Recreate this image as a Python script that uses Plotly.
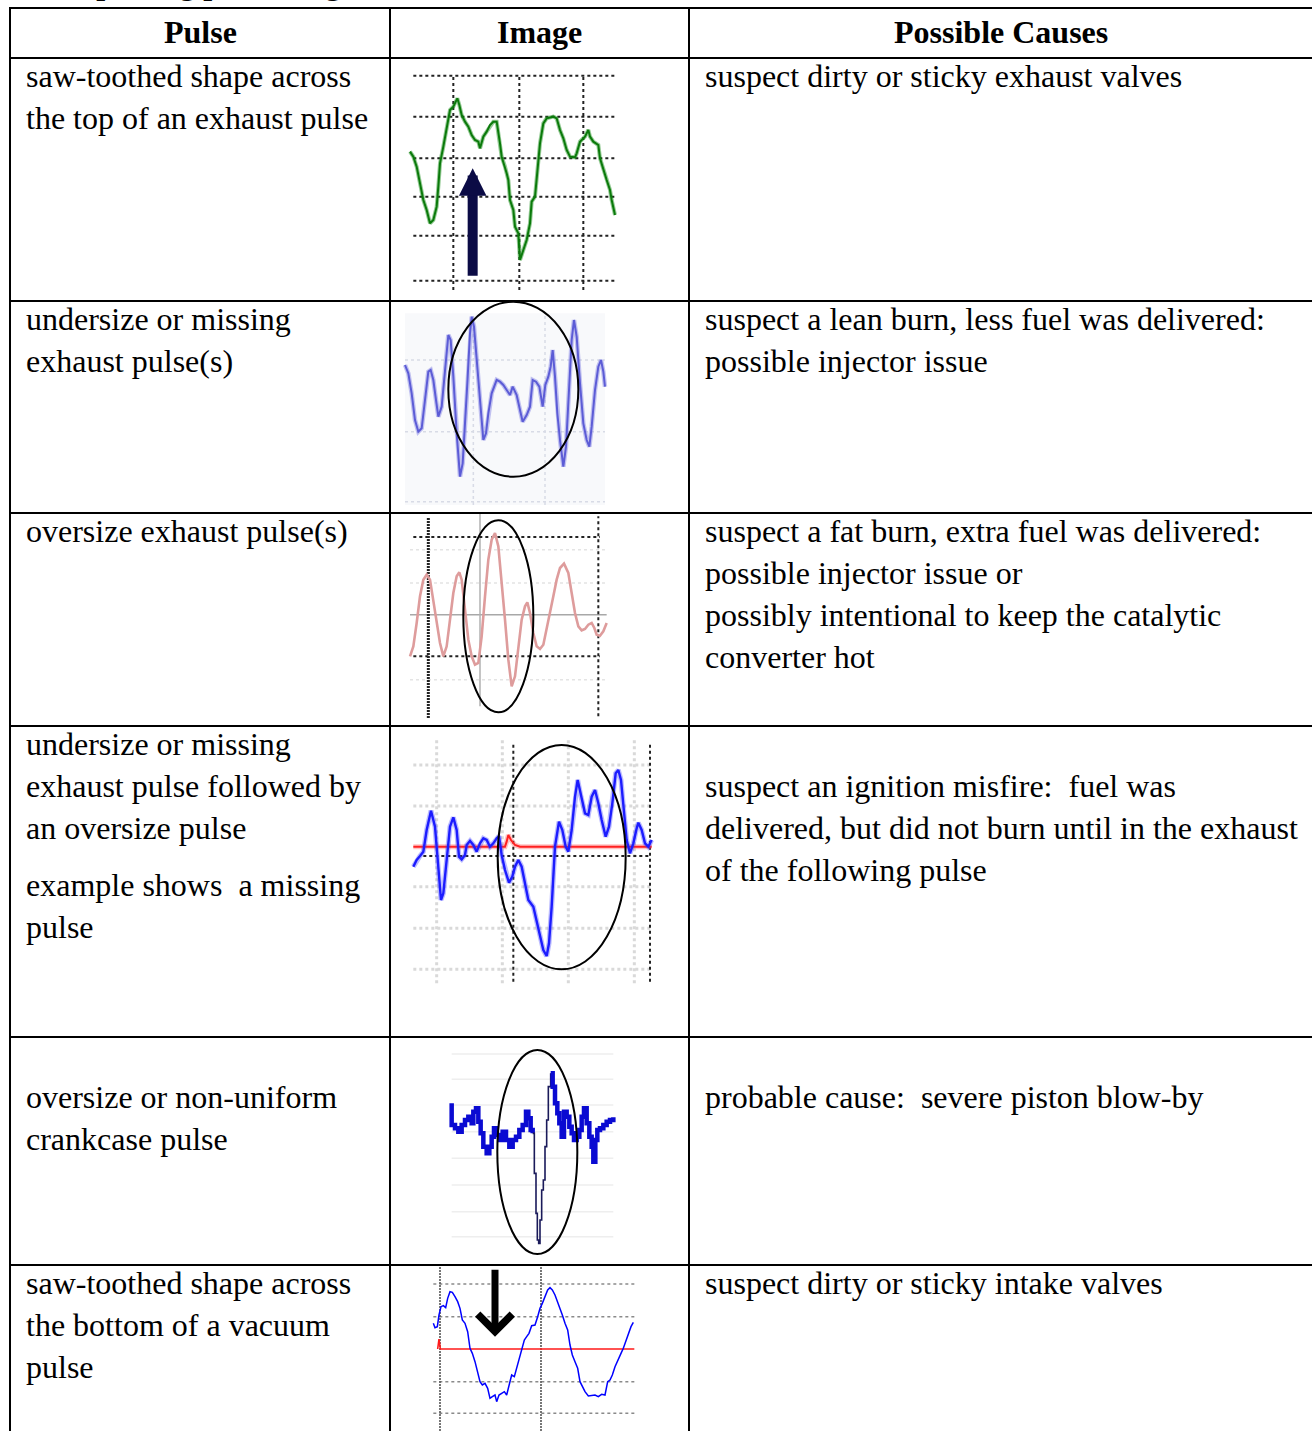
import plotly.graph_objects as go

W, H = 1312, 1431

# ---------------- table text ----------------
headers = ["Pulse", "Image", "Possible Causes"]

# "" = blank line, "^" = small paragraph gap
pulse_text = [
    ["saw-toothed shape across", "the top of an exhaust pulse"],
    ["undersize or missing", "exhaust pulse(s)"],
    ["oversize exhaust pulse(s)"],
    ["undersize or missing", "exhaust pulse followed by", "an oversize pulse", "^",
     "example shows\u00a0 a missing", "pulse"],
    ["", "oversize or non-uniform", "crankcase pulse"],
    ["saw-toothed shape across", "the bottom of a vacuum", "pulse"],
]
cause_text = [
    ["suspect dirty or sticky exhaust valves"],
    ["suspect a lean burn, less fuel was delivered:", "possible injector issue"],
    ["suspect a fat burn, extra fuel was delivered:", "possible injector issue or",
     "possibly intentional to keep the catalytic", "converter hot"],
    ["", "suspect an ignition misfire:\u00a0 fuel was",
     "delivered, but did not burn until in the exhaust", "of the following pulse"],
    ["", "probable cause:\u00a0 severe piston blow-by"],
    ["suspect dirty or sticky intake valves"],
]

# ---------------- waveform samples (time, amplitude) ----------------
# row 1: exhaust pulse, saw-toothed top
w1_t = [30, 40, 50, 60, 70, 80, 90, 100, 110, 115, 120, 130, 140, 150, 160, 165, 172, 178, 185, 195,
        205, 215, 225, 235, 240, 250, 260, 270, 280, 290, 295, 300, 305, 315, 320, 325, 330, 340, 345,
        355, 360, 370, 380, 390, 395, 405, 410, 415, 420, 430, 440, 460, 470, 480, 490, 500, 510, 525,
        530, 540, 555, 565, 570, 580, 595, 600, 610, 620, 630, 635, 645]
w1_v = [430, 415, 385, 335, 285, 255, 215, 225, 265, 325, 395, 445, 495, 555, 565, 575, 590, 570, 540, 520,
        505, 480, 465, 460, 440, 475, 490, 510, 520, 520, 490, 455, 415, 385, 365, 345, 285, 255, 205,
        185, 105, 135, 165, 215, 280, 295, 355, 405, 455, 515, 530, 535, 530, 495, 470, 435, 415, 413,
        425, 460, 475, 495, 475, 460, 450, 410, 375, 345, 315, 285, 240]

# row 2: undersize / missing exhaust pulse
w2_t = [15, 25, 35, 45, 55, 65, 75, 85, 92, 100, 108, 115, 125, 135, 145, 152, 160, 170, 180, 188,
        195, 202, 210, 215, 222, 230, 240, 250, 258, 265, 275, 290, 300, 310, 320, 330, 338, 350, 360,
        368, 380, 390, 398, 408, 418, 428, 436, 445, 452, 458, 465, 472, 480, 490, 498, 508, 515, 522,
        530, 540, 550, 560, 568, 575, 585, 595, 603, 610, 615]
w2_v = [444, 419, 359, 279, 244, 254, 339, 424, 429, 399, 339, 289, 319, 439, 534, 519, 409, 239, 109, 149,
        259, 389, 539, 589, 559, 459, 319, 219, 239, 299, 359, 399, 394, 384, 369, 354, 379, 354, 309,
        274, 294, 319, 399, 394, 379, 319, 384, 409, 439, 489, 409, 299, 219, 139, 199, 389, 519, 579,
        529, 389, 269, 219, 199, 259, 369, 439, 459, 424, 379]

# row 3: oversize exhaust pulse
w3_t = [30, 40, 50, 60, 70, 80, 90, 100, 110, 120, 130, 140, 150, 160, 170, 178, 185, 195, 205, 215,
        225, 235, 245, 255, 265, 275, 285, 295, 305, 315, 325, 335, 345, 355, 365, 375, 382, 390, 400,
        410, 420, 430, 440, 450, 460, 470, 480, 492, 505, 515, 525, 535, 545, 555, 565, 575, 583, 590,
        600, 610, 620]
w3_v = [209, 239, 309, 389, 439, 454, 439, 379, 309, 249, 209, 239, 319, 399, 449, 461, 439, 339, 259, 209,
        184, 189, 269, 389, 499, 559, 579, 539, 439, 319, 199, 119, 149, 239, 319, 359, 371, 339, 279,
        239, 231, 244, 289, 339, 389, 439, 474, 487, 459, 399, 339, 299, 287, 291, 304, 309, 294, 274,
        271, 284, 309]

# row 4: missing pulse followed by oversize pulse (blue) + trigger (red)
w4_t = [25, 35, 45, 55, 65, 78, 90, 100, 108, 115, 125, 135, 145, 155, 162, 170, 180, 185, 195, 205,
        215, 225, 235, 245, 255, 265, 275, 282, 290, 300, 312, 322, 330, 340, 350, 360, 370, 385, 395,
        405, 415, 425, 432, 440, 450, 462, 472, 482, 490, 500, 510, 518, 528, 540, 550, 560, 570, 580,
        590, 602, 612, 622, 632, 640, 648, 655, 665, 675, 685, 695, 700, 710, 720, 730, 740]
w4_v = [370, 390, 402, 415, 480, 538, 490, 360, 270, 290, 400, 490, 518, 480, 400, 392, 405, 435, 447, 435,
        415, 440, 455, 450, 430, 440, 455, 462, 405, 360, 322, 340, 370, 390, 370, 320, 270, 250, 205,
        160, 120, 102, 140, 250, 430, 505, 480, 430, 415, 480, 580, 630, 580, 530, 525, 580, 600, 560,
        510, 460, 490, 560, 650, 660, 630, 550, 450, 410, 440, 485, 502, 480, 440, 430, 450]
w4_ref_t = [25, 300, 305, 310, 318, 330, 345, 740]
w4_ref_v = [430, 430, 445, 465, 450, 435, 430, 430]

# row 5: crankcase pulse (thin segment = fast swing)
w5_t = [35, 35, 45, 55, 65, 75, 85, 95, 100, 108, 115, 122, 130, 140, 148, 155, 162, 170, 178, 188,
        198, 208, 218, 228, 238, 248, 258, 265, 272, 278, 283, 288, 292, 296, 300, 305, 310, 315, 320,
        325, 332, 338, 345, 352, 358, 365, 372, 380, 388, 395, 402, 410, 418, 425, 432, 440, 448, 455,
        460, 466, 472, 480, 490, 500, 510, 520]
w5_v = [470, 405, 395, 385, 405, 420, 430, 410, 445, 455, 415, 380, 340, 320, 340, 370, 395, 375, 360, 385,
        360, 340, 360, 370, 390, 405, 445, 425, 390, 380, 260, 140, 60, 50, 120, 210, 240, 340, 420,
        520, 560, 520, 470, 440, 410, 370, 445, 430, 400, 380, 360, 370, 390, 430, 455, 410, 370, 340,
        295, 360, 390, 395, 405, 415, 420, 428]
w5_fast = (29, 40)  # index span drawn as thin line

# row 6: vacuum pulse (blue) + trigger (red)
w6_t = [25, 30, 37, 42, 48, 55, 62, 68, 75, 82, 90, 98, 105, 112, 120, 128, 135, 142, 150, 158,
        165, 172, 180, 188, 195, 202, 210, 215, 222, 230, 238, 245, 252, 260, 268, 275, 282, 290, 298,
        305, 312, 320, 330, 338, 345, 352, 360, 368, 375, 382, 390, 398, 405, 412, 420, 428, 435, 442,
        450, 458, 465, 472, 480, 490, 500, 510, 520, 530, 540, 548, 555, 562, 570, 578, 588, 595, 602,
        610, 618, 625]
w6_v = [323, 310, 313, 348, 373, 376, 370, 398, 418, 416, 403, 388, 368, 333, 323, 298, 248, 233, 208, 178,
        148, 138, 143, 128, 98, 103, 108, 88, 108, 113, 118, 108, 133, 168, 163, 188, 213, 243, 273,
        283, 293, 316, 318, 343, 368, 383, 403, 423, 430, 423, 408, 388, 368, 348, 323, 303, 258, 228,
        208, 188, 148, 133, 118, 105, 106, 108, 103, 110, 108, 148, 153, 168, 193, 213, 233, 248, 268,
        288, 313, 326]
w6_ref_t = [38, 40, 42, 44, 46, 628]
w6_ref_v = [246, 262, 276, 262, 246, 246]

# ---------------- helpers ----------------
FONT = "Liberation Serif"
FS = 32
row_edges = [8, 58, 301, 513, 726, 1037, 1265]
col_edges = [10, 390, 689]
LINE = 42

# image crops (x, y, w, h) in page px; samples are in 1/3 px units
crops = [(400, 60, 230, 235), (400, 300, 215, 213), (400, 513, 215, 213),
         (405, 730, 255, 260), (440, 1040, 185, 220), (425, 1265, 220, 166)]

fig = go.Figure()
layout = dict(width=W, height=H, margin=dict(l=0, r=0, t=0, b=0),
              paper_bgcolor="white", plot_bgcolor="rgba(0,0,0,0)", showlegend=False)
for i, (x0, y0, w, h) in enumerate(crops, start=1):
    sfx = "" if i == 1 else str(i)
    layout["xaxis" + sfx] = dict(domain=[x0 / W, (x0 + w) / W], range=[0, 3 * w], visible=False,
                                 anchor="y" + sfx, fixedrange=True)
    layout["yaxis" + sfx] = dict(domain=[1 - (y0 + h) / H, 1 - y0 / H], range=[0, 3 * h], visible=False,
                                 anchor="x" + sfx, fixedrange=True)
fig.update_layout(**layout)


def ax(i):
    return ("x", "y") if i == 1 else ("x%d" % i, "y%d" % i)


def line(i, t, v, color, width, dash="solid", shape="linear"):
    xa, ya = ax(i)
    fig.add_trace(go.Scatter(x=t, y=v, mode="lines", xaxis=xa, yaxis=ya, hoverinfo="skip",
                             line=dict(color=color, width=width, dash=dash, shape=shape)))


def grid(i, levels, lo, hi, color, width, dash, horizontal=True):
    a, b = [], []
    for lv in levels:
        a += [lo, hi, None]
        b += [lv, lv, None]
    if horizontal:
        line(i, a, b, color, width, dash)
    else:
        line(i, b, a, color, width, dash)


def ellipse(i, t0, t1, v0, v1):
    xa, ya = ax(i)
    fig.add_shape(type="circle", xref=xa, yref=ya, x0=t0, x1=t1, y0=v0, y1=v1,
                  line=dict(color="black", width=2), layer="above")


# ---- row 1 ----
grid(1, [658, 535, 410, 295, 178, 43], 40, 645, "#222222", 2, "dot")
grid(1, [160, 358, 550], 15, 658, "#222222", 2, "dot", horizontal=False)
line(1, w1_t, w1_v, "rgba(20,140,20,0.45)", 4)
line(1, w1_t, w1_v, "#0b7a0b", 2)
fig.add_annotation(x=218, y=380, ax=218, ay=53, xref="x", yref="y", axref="x", ayref="y",
                   showarrow=True, arrowhead=2, arrowsize=0.55, arrowwidth=10,
                   arrowcolor="#0b0b45", text="")

# ---- row 2 ----
fig.add_shape(type="rect", xref="x2", yref="y2", x0=15, x1=615, y0=24, y1=599,
              fillcolor="#f8f9fb", line=dict(width=0), layer="below")
grid(2, [459, 244, 34], 15, 615, "#d8dbe6", 1.5, "dot")
grid(2, [220, 435], 24, 599, "#d8dbe6", 1.5, "dot", horizontal=False)
line(2, w2_t, w2_v, "rgba(110,110,225,0.4)", 4.5)
line(2, w2_t, w2_v, "#5c5cd6", 2)
ellipse(2, 145, 535, 109, 634)

# ---- row 3 ----
grid(3, [529, 429, 139], 30, 620, "#e4e4e4", 1.5, "dot")
grid(3, [334], 30, 620, "#a8a8a8", 1.5, "solid")
grid(3, [240], 59, 639, "#b0b0b0", 1.5, "solid", horizontal=False)
grid(3, [567, 209], 40, 600, "#222222", 2, "dot")
grid(3, [595], 29, 629, "#222222", 2, "dot", horizontal=False)
grid(3, [85], 24, 624, "#222222", 3, "2px,1px", horizontal=False)
line(3, w3_t, w3_v, "#de9c9c", 2.6)
ellipse(3, 190, 400, 41, 617)

# ---- row 4 ----
grid(4, [675, 552, 310, 185, 62], 25, 740, "#d9d9d9", 3, "dot")
grid(4, [95, 292, 490, 688], 20, 755, "#d9d9d9", 3, "dot", horizontal=False)
grid(4, [402], 55, 735, "#222222", 2, "dot")
grid(4, [325, 735], 25, 745, "#222222", 2, "dot", horizontal=False)
line(4, w4_ref_t, w4_ref_v, "rgba(255,80,80,0.35)", 5)
line(4, w4_ref_t, w4_ref_v, "#ff2020", 2)
line(4, w4_t, w4_v, "rgba(60,60,255,0.35)", 5)
line(4, w4_t, w4_v, "#1c1cff", 2.4)
ellipse(4, 278, 662, 62, 735)

# ---- row 5 ----
grid(5, [618, 542, 465, 385, 305, 225, 145, 70], 35, 520, "#eeeeee", 1.5, "solid")
a, b = w5_fast
line(5, w5_t[:a + 1], w5_v[:a + 1], "#0a0ad2", 4.5, shape="hv")
line(5, w5_t[a:b + 1], w5_v[a:b + 1], "#1a1a5a", 1.6, shape="hv")
line(5, w5_t[b:], w5_v[b:], "#0a0ad2", 4.5, shape="hv")
ellipse(5, 172, 412, 18, 630)

# ---- row 6 ----
grid(6, [441, 343, 148, 53], 25, 628, "#8a8a8a", 1.5, "dot")
grid(6, [45, 348], 0, 498, "#555555", 1.6, "2px,1px", horizontal=False)
line(6, w6_ref_t, w6_ref_v, "#ff1a1a", 1.6)
line(6, w6_t, w6_v, "#0000ff", 1.5)
fig.add_annotation(x=210, y=283, ax=210, ay=488, xref="x6", yref="y6", axref="x6", ayref="y6",
                   showarrow=True, arrowhead=4, arrowsize=0.95, arrowwidth=7,
                   arrowcolor="black", text="")

# ---------------- table borders ----------------
for y in row_edges:
    fig.add_shape(type="line", xref="paper", yref="paper", x0=(col_edges[0] - 1) / W, x1=1,
                  y0=1 - y / H, y1=1 - y / H, line=dict(color="black", width=2), layer="above")
for x in col_edges:
    fig.add_shape(type="line", xref="paper", yref="paper", x0=x / W, x1=x / W,
                  y0=0, y1=1 - row_edges[0] / H, line=dict(color="black", width=2), layer="above")

# ---------------- text ----------------
def txt(x, y, s, anchor="left"):
    fig.add_annotation(x=x / W, y=1 - y / H, xref="paper", yref="paper", text=s, showarrow=False,
                       xanchor=anchor, yanchor="middle", align=anchor,
                       font=dict(family=FONT, size=FS, color="black"))


# cut-off caption above the table (only the descenders show)
fig.add_annotation(x=25 / W, y=1 - 3 / H, xref="paper", yref="paper", yanchor="bottom", xanchor="left",
                   text="<b>Interpreting pulse diagnostics</b>", showarrow=False,
                   font=dict(family=FONT, size=FS, color="black"))

centers = [(col_edges[0] + col_edges[1]) / 2, (col_edges[1] + col_edges[2]) / 2, (col_edges[2] + W) / 2]
for cx, hd in zip(centers, headers):
    txt(cx, 32, "<b>%s</b>" % hd, anchor="center")


def column(x, rows):
    for top, lines in zip(row_edges[1:], rows):
        y = top + 18
        for s in lines:
            if s == "":
                y += LINE
                continue
            if s == "^":
                y += 15
                continue
            txt(x, y, s)
            y += LINE


column(24, pulse_text)
column(703, cause_text)

fig.write_html("out.html", config={"displayModeBar": False},
               post_script="document.body.style.margin='0';")
